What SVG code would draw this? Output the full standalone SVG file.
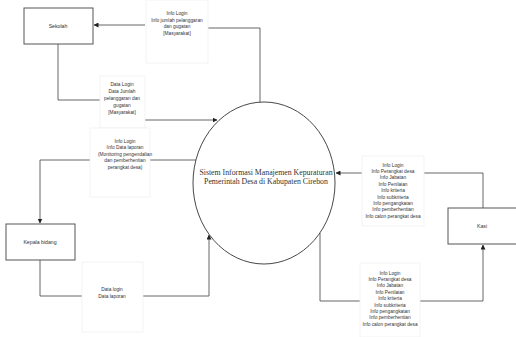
<svg xmlns="http://www.w3.org/2000/svg" width="516" height="337" viewBox="0 0 516 337">
<style>
.ent{fill:#fff;stroke:#555;stroke-width:1}
.lbl{fill:#fff;stroke:#f0f0f0;stroke-width:0.8}
.t{font-family:"Liberation Sans",Arial,sans-serif;font-size:4.8px;fill:#333;text-anchor:middle}
.et{font-family:"Liberation Sans",Arial,sans-serif;font-size:5.2px;fill:#333;text-anchor:middle}
.ct{font-family:"Liberation Serif","Times New Roman",serif;font-size:7.8px;fill:#333;text-anchor:middle}
.ln{fill:none;stroke:#555;stroke-width:0.9}
</style>
<defs>
<marker id="ah" viewBox="0 0 10 10" refX="9" refY="5" markerWidth="5" markerHeight="5" orient="auto" markerUnits="userSpaceOnUse">
<path d="M0,0 L10,5 L0,10 z" fill="#222"/>
</marker>
</defs>
<rect width="516" height="337" fill="#fff"/>
<g id="connectors">
<polyline class="ln" points="260,104 260,28 208,28"/>
<line class="ln" x1="145" y1="25" x2="94" y2="25" marker-end="url(#ah)"/>
<polyline class="ln" points="58,44 58,100 100,100"/>
<polyline class="ln" points="145,120 217,120" marker-end="url(#ah)"/>
<polyline class="ln" points="196,160 150,160"/>
<polyline class="ln" points="90,160 40,160 40,223" marker-end="url(#ah)"/>
<polyline class="ln" points="40,260 40,296 82,296"/>
<polyline class="ln" points="143,296 209,296 209,235" marker-end="url(#ah)"/>
<polyline class="ln" points="483,208 483,173 424,173"/>
<line class="ln" x1="362" y1="173" x2="336" y2="173" marker-end="url(#ah)"/>
<polyline class="ln" points="320,233 320,301 360,301"/>
<polyline class="ln" points="420,301 483,301 483,245" marker-end="url(#ah)"/>
</g>
<g id="lbl-sekolah-out">
<rect class="lbl" x="146" y="0" width="62" height="63"/>
<text class="t" x="177" y="15">Info Login</text>
<text class="t" x="177" y="21.5">Info jumlah pelanggaran</text>
<text class="t" x="177" y="28">dan gugatan</text>
<text class="t" x="177" y="34.5">[Masyarakat]</text>
</g>
<g id="lbl-sekolah-in">
<rect class="lbl" x="100" y="76" width="45" height="52"/>
<text class="t" x="122" y="86">Data Login</text>
<text class="t" x="122" y="92.5">Data Jumlah</text>
<text class="t" x="122" y="99.5">pelanggaran dan</text>
<text class="t" x="122" y="106.5">gugatan</text>
<text class="t" x="122" y="113.5">[Masyarakat]</text>
</g>
<g id="lbl-kabid-out">
<rect class="lbl" x="90" y="128" width="60" height="69"/>
<text class="t" x="125" y="142.5">Info Login</text>
<text class="t" x="125" y="149">Info Data laporan</text>
<text class="t" x="125" y="155.5">(Monitoring pengendalian</text>
<text class="t" x="125" y="162">dan pemberhentian</text>
<text class="t" x="125" y="168.5">perangkat desa)</text>
</g>
<g id="lbl-kabid-in">
<rect class="lbl" x="82" y="262" width="61" height="70"/>
<text class="t" x="112" y="290.5">Data login</text>
<text class="t" x="112" y="297.5">Data laporan</text>
</g>
<g id="lbl-kasi-out">
<rect class="lbl" x="362" y="156" width="62" height="70"/>
<text class="t" x="393" y="166.5">Info Login</text>
<text class="t" x="393" y="173">Info Perangkat desa</text>
<text class="t" x="393" y="179.4">Info Jabatan</text>
<text class="t" x="393" y="185.8">Info Penilaian</text>
<text class="t" x="393" y="192.2">Info kriteria</text>
<text class="t" x="393" y="198.6">Info subkriteria</text>
<text class="t" x="393" y="205">Info pengangkatan</text>
<text class="t" x="393" y="211.4">Info pemberhentian</text>
<text class="t" x="393" y="217.8">Info calon perangkat desa</text>
</g>
<g id="lbl-kasi-in">
<rect class="lbl" x="360" y="263" width="60" height="74"/>
<text class="t" x="390" y="274.5">Info Login</text>
<text class="t" x="390" y="281">Info Perangkat desa</text>
<text class="t" x="390" y="287.4">Info Jabatan</text>
<text class="t" x="390" y="293.8">Info Penilaian</text>
<text class="t" x="390" y="300.2">Info kriteria</text>
<text class="t" x="390" y="306.6">Info subkriteria</text>
<text class="t" x="390" y="313">Info pengangkatan</text>
<text class="t" x="390" y="319.4">Info pemberhentian</text>
<text class="t" x="390" y="325.8">Info calon perangkat desa</text>
</g>
<g id="sekolah">
<rect class="ent" x="24" y="8" width="69" height="36"/>
<text class="et" x="58" y="27.5">Sekolah</text>
</g>
<g id="kepala-bidang">
<rect class="ent" x="6" y="224" width="69" height="36"/>
<text class="et" x="40" y="243.5">Kepala bidang</text>
</g>
<g id="kasi">
<rect class="ent" x="448" y="208" width="70" height="36"/>
<text class="et" x="482" y="227.5">Kasi</text>
</g>
<g id="sistem">
<ellipse cx="264" cy="183" rx="71" ry="81" fill="#fff" stroke="#333" stroke-width="0.9"/>
<text class="ct" x="266" y="175">Sistem Informasi Manajemen Kepuraturan</text>
<text class="ct" x="266" y="184">Pemerintah Desa di Kabupaten Cirebon</text>
</g>
</svg>
